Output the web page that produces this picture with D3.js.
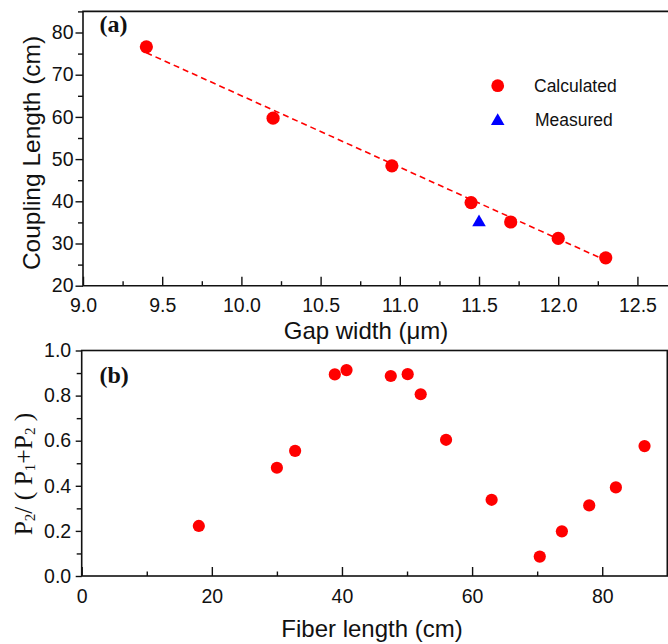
<!DOCTYPE html>
<html>
<head>
<meta charset="utf-8">
<script src="https://cdn.jsdelivr.net/npm/d3@7"></script>
<style>
  html, body { margin: 0; padding: 0; background: #fff; }
  svg { display: block; }
  .sans { font-family: "Liberation Sans", Arial, sans-serif; fill: #111; }
  .serif { font-family: "Liberation Serif", "Times New Roman", serif; fill: #111; }
</style>
</head>
<body>
<svg id="chart" width="668" height="644"></svg>
<script>
// Panel (a): coupling length versus gap width
const gapWidth       = [9.4, 10.2, 10.95, 11.45, 11.7, 12.0, 12.3];
const couplingLength = [76.6, 59.7, 48.4, 39.7, 35.1, 31.2, 26.6];
const measuredGap    = [11.5];
const measuredLength = [35.0];
const fitGap         = [9.4, 12.3];
const fitLength      = [75.2, 26.0];
const gapTicks       = [9.0, 9.5, 10.0, 10.5, 11.0, 11.5, 12.0, 12.5];
const lengthTicks    = [20, 30, 40, 50, 60, 70, 80];
const legendLabels   = ["Calculated", "Measured"];

// Panel (b): normalised power P2/(P1+P2) versus fiber length
const fiberLength = [18.0, 30.0, 32.8, 38.9, 40.7, 47.5, 50.1, 52.1, 56.0, 63.0, 70.4, 73.8, 78.0, 82.1, 86.5];
const powerRatio  = [0.222, 0.480, 0.555, 0.894, 0.913, 0.887, 0.895, 0.806, 0.604, 0.338, 0.086, 0.198, 0.313, 0.393, 0.576];
const fiberTicks  = [0, 20, 40, 60, 80];
const ratioTicks  = [0.0, 0.2, 0.4, 0.6, 0.8, 1.0];

const svg = d3.select("#chart");
const RED = "#ff0000", BLUE = "#0000ff", AXIS = "#111";

function styleAxis(g, fontSize) {
  g.select(".domain").remove();
  g.selectAll(".tick line").attr("stroke", AXIS).attr("stroke-width", 1.4);
  g.selectAll(".tick text")
    .attr("class", "sans")
    .style("font-size", fontSize + "px")
    .style("font-family", '"Liberation Sans", Arial, sans-serif')
    .attr("fill", "#111");
}

// ---------- panel (a) ----------
const xa = d3.scaleLinear().domain([9.0, 12.7]).range([83, 669.1]);
const ya = d3.scaleLinear().domain([20, 85]).range([285.7, 11.4]);

const gxa = svg.append("g").attr("transform", `translate(0,${ya(20)})`);
gxa.call(d3.axisBottom(xa).tickValues(d3.range(9.25, 12.8, 0.5)).tickSizeInner(-4.5).tickSizeOuter(0).tickFormat(""));
styleAxis(gxa, 19.5);
const gxaM = svg.append("g").attr("transform", `translate(0,${ya(20)})`);
gxaM.call(d3.axisBottom(xa).tickValues(gapTicks).tickSizeInner(-9).tickSizeOuter(0).tickPadding(12).tickFormat(d3.format(".1f")));
styleAxis(gxaM, 19.5);

const gyaMinor = svg.append("g").attr("transform", `translate(${xa(9)},0)`);
gyaMinor.call(d3.axisLeft(ya).tickValues(d3.range(25, 86, 10)).tickSizeInner(5).tickSizeOuter(0).tickFormat(""));
styleAxis(gyaMinor, 19.5);
const gya = svg.append("g").attr("transform", `translate(${xa(9)},0)`);
gya.call(d3.axisLeft(ya).tickValues(lengthTicks).tickSizeInner(7.5).tickSizeOuter(0).tickPadding(2).tickFormat(d3.format("d")));
styleAxis(gya, 19.5);

// frame: left, bottom, top (right edge lies past the page)
svg.append("path")
  .attr("d", `M${xa(12.7)},${ya(85)}H${xa(9)}V${ya(20)}H${xa(12.7)}`)
  .attr("fill", "none").attr("stroke", AXIS).attr("stroke-width", 1.6);

// linear fit, dashed
svg.append("path")
  .datum(d3.zip(fitGap, fitLength))
  .attr("d", d3.line().x(d => xa(d[0])).y(d => ya(d[1])))
  .attr("fill", "none").attr("stroke", RED).attr("stroke-width", 1.6)
  .attr("stroke-dasharray", "6,4");

svg.append("g").selectAll("circle")
  .data(d3.zip(gapWidth, couplingLength))
  .join("circle")
  .attr("cx", d => xa(d[0])).attr("cy", d => ya(d[1]))
  .attr("r", 6.6).attr("fill", RED);

const tri = d3.symbol().type(d3.symbolTriangle).size(80);
svg.append("g").selectAll("path")
  .data(d3.zip(measuredGap, measuredLength))
  .join("path")
  .attr("transform", d => `translate(${xa(d[0])},${ya(d[1])})`)
  .attr("d", tri).attr("fill", BLUE);

// legend
const leg = svg.append("g");
leg.append("circle").attr("cx", 497.7).attr("cy", 85.7).attr("r", 6.4).attr("fill", RED);
leg.append("path").attr("transform", "translate(497.7,121)").attr("d", tri).attr("fill", BLUE);
leg.append("text").attr("class", "sans").attr("x", 534).attr("y", 91.8)
  .style("font-size", "17.5px").text(legendLabels[0]);
leg.append("text").attr("class", "sans").attr("x", 535).attr("y", 125.8)
  .style("font-size", "17.5px").text(legendLabels[1]);

svg.append("text").attr("class", "serif").attr("x", 99.5).attr("y", 31.5)
  .style("font-size", "24px").style("font-weight", "bold").text("(a)");

svg.append("text").attr("class", "sans")
  .attr("transform", "translate(39.5,153) rotate(-90)")
  .attr("text-anchor", "middle").style("font-size", "24.5px")
  .text("Coupling Length (cm)");

svg.append("text").attr("class", "sans")
  .attr("x", 366).attr("y", 339.3).attr("text-anchor", "middle")
  .style("font-size", "24px").text("Gap width (\u03bcm)");

// ---------- panel (b) ----------
const xb = d3.scaleLinear().domain([0, 90]).range([81.7, 667.3]);
const yb = d3.scaleLinear().domain([0, 1]).range([576, 350.5]);

const gxbMinor = svg.append("g").attr("transform", `translate(0,${yb(0)})`);
gxbMinor.call(d3.axisBottom(xb).tickValues([10, 30, 50, 70]).tickSizeInner(-4.5).tickSizeOuter(0).tickFormat(""));
styleAxis(gxbMinor, 19.5);
const gxb = svg.append("g").attr("transform", `translate(0,${yb(0)})`);
gxb.call(d3.axisBottom(xb).tickValues(fiberTicks).tickSizeInner(-9).tickSizeOuter(0).tickPadding(13).tickFormat(d3.format("d")));
styleAxis(gxb, 19.5);

const gybMinor = svg.append("g").attr("transform", `translate(${xb(0)},0)`);
gybMinor.call(d3.axisLeft(yb).tickValues([0.1, 0.3, 0.5, 0.7, 0.9]).tickSizeInner(5).tickSizeOuter(0).tickFormat(""));
styleAxis(gybMinor, 19.5);
const gyb = svg.append("g").attr("transform", `translate(${xb(0)},0)`);
gyb.call(d3.axisLeft(yb).tickValues(ratioTicks).tickSizeInner(6).tickSizeOuter(0).tickPadding(4.5).tickFormat(d3.format(".1f")));
styleAxis(gyb, 19.5);

svg.append("rect")
  .attr("x", xb(0)).attr("y", yb(1))
  .attr("width", xb(90) - xb(0)).attr("height", yb(0) - yb(1))
  .attr("fill", "none").attr("stroke", AXIS).attr("stroke-width", 1.6);

svg.append("g").selectAll("circle")
  .data(d3.zip(fiberLength, powerRatio))
  .join("circle")
  .attr("cx", d => xb(d[0])).attr("cy", d => yb(d[1]))
  .attr("r", 6.1).attr("fill", RED);

svg.append("text").attr("class", "serif").attr("x", 99.5).attr("y", 383)
  .style("font-size", "24px").style("font-weight", "bold").text("(b)");

svg.append("text").attr("class", "sans")
  .attr("x", 372).attr("y", 637).attr("text-anchor", "middle")
  .style("font-size", "24px").text("Fiber length (cm)");

// y title with subscripts: P2/ ( P1+P2 )
const yt = svg.append("text").attr("class", "serif")
  .attr("transform", "translate(32,474) rotate(-90)")
  .attr("text-anchor", "middle").style("font-size", "25.5px");
const parts = [["P", 0], ["2", 1], ["/ ( P", 0], ["1", 1], ["+P", 0], ["2", 1], [" )", 0]];
let shifted = false;
parts.forEach(([t, sub]) => {
  const ts = yt.append("tspan").text(t);
  if (sub) { ts.style("font-size", "15px").attr("dy", shifted ? 0 : 3); shifted = true; }
  else { if (shifted) ts.attr("dy", -3); shifted = false; }
});
</script>
</body>
</html>
